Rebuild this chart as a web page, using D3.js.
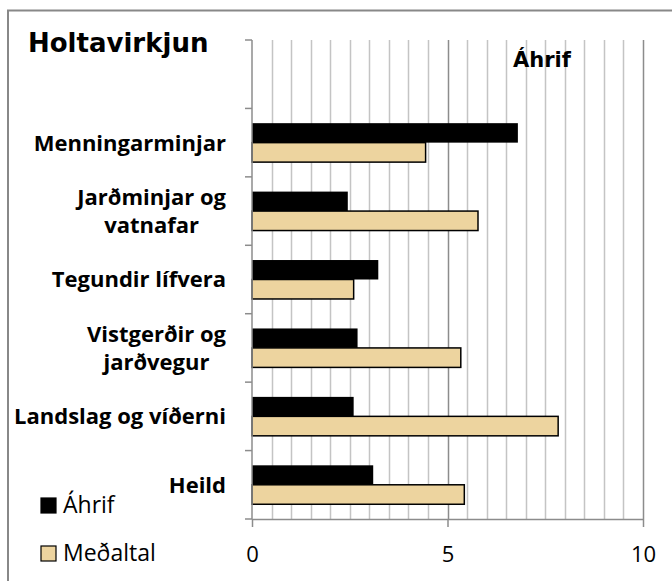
<!DOCTYPE html>
<html>
<head>
<meta charset="utf-8">
<script src="https://cdn.jsdelivr.net/npm/d3@7"></script>
<style>
  body { margin: 0; background: #fff; }
  svg { display: block; }
</style>
</head>
<body>
<div id="chart"></div>
<script>
// categories from bottom to top; the top slot is empty in the original chart
const categories = ['Heild', 'Landslag og víðerni', 'Vistgerðir og jarðvegur', 'Tegundir lífvera', 'Jarðminjar og vatnafar', 'Menningarminjar', ''];
const categoryLines = [['Heild'], ['Landslag og víðerni'], ['Vistgerðir og', 'jarðvegur'], ['Tegundir lífvera'], ['Jarðminjar og', 'vatnafar'], ['Menningarminjar'], []];
const seriesNames = ['Áhrif', 'Meðaltal'];
const ahrif = [3.10, 2.60, 2.70, 3.23, 2.45, 6.80, null];
const medaltal = [5.43, 7.83, 5.34, 2.60, 5.78, 4.44, null];
const xTicks = [0, 5, 10];

const width = 672, height = 581;
const plot = { left: 252, right: 643, top: 40, bottom: 519 };
const colors = { 'Áhrif': '#000000', 'Meðaltal': '#EDD49F' };
const calibri = "'Open Sans', sans-serif";

const svg = d3.select('#chart').append('svg')
  .attr('width', width)
  .attr('height', height);

// outer chart border (runs off the right/bottom edge)
svg.append('rect')
  .attr('x', 8).attr('y', 10.5)
  .attr('width', 700).attr('height', 600)
  .attr('fill', 'none')
  .attr('stroke', '#888').attr('stroke-width', 2);

const x = d3.scaleLinear().domain([0, 10]).range([plot.left, plot.right]);
const y0 = d3.scaleBand().domain(categories).range([plot.bottom, plot.top]);
const y1 = d3.scaleBand().domain(seriesNames).range([0, y0.bandwidth()]).paddingOuter(0.757);

// gridlines every 0.5, darker at the major ticks
const grid = d3.range(0.5, 10.01, 0.5);
svg.append('g').selectAll('line')
  .data(grid)
  .join('line')
  .attr('x1', d => Math.round(x(d)) + 0.5)
  .attr('x2', d => Math.round(x(d)) + 0.5)
  .attr('y1', plot.top)
  .attr('y2', plot.bottom)
  .attr('stroke', d => d % 5 === 0 ? '#8c8c8c' : '#c4c4c4')
  .attr('stroke-width', 1.5);

// bars
const rows = categories.map((c, i) => ({ cat: c, values: [ahrif[i], medaltal[i]] }));
const groups = svg.append('g').selectAll('g')
  .data(rows.filter(r => r.values[0] != null))
  .join('g')
  .attr('transform', d => `translate(0,${y0(d.cat)})`);

groups.selectAll('rect')
  .data(d => seriesNames.map((s, i) => ({ s, v: d.values[i] })))
  .join('rect')
  .attr('x', x(0))
  .attr('y', d => y1(d.s))
  .attr('width', d => x(d.v) - x(0))
  .attr('height', y1.bandwidth())
  .attr('fill', d => colors[d.s])
  .attr('stroke', '#000')
  .attr('stroke-width', d => d.s === 'Meðaltal' ? 1.5 : 0);

// left axis with ticks at band edges
const leftAxis = svg.append('g');
leftAxis.append('line')
  .attr('x1', plot.left).attr('x2', plot.left)
  .attr('y1', plot.top).attr('y2', plot.bottom)
  .attr('stroke', '#8c8c8c').attr('stroke-width', 1.5);
const edges = categories.map(c => y0(c)).concat([plot.bottom]);
leftAxis.selectAll('.tk')
  .data(edges)
  .join('line')
  .attr('x1', plot.left - 7).attr('x2', plot.left)
  .attr('y1', d => d).attr('y2', d => d)
  .attr('stroke', '#8c8c8c').attr('stroke-width', 1.5);

// bottom axis
const xAxis = svg.append('g')
  .attr('transform', `translate(0,${plot.bottom})`)
  .call(d3.axisBottom(x).tickValues(xTicks).tickSize(8).tickPadding(19).tickSizeOuter(0));
xAxis.select('.domain').attr('stroke', '#8c8c8c').attr('stroke-width', 1.5);
xAxis.selectAll('.tick line').attr('stroke', '#8c8c8c').attr('stroke-width', 1.5);
xAxis.selectAll('.tick text')
  .attr('font-family', calibri)
  .attr('font-size', 22)
  .attr('fill', '#000');

// category labels, lines centred on each other, block right-aligned
const labelRight = 226;
const lineH = 28;
categories.forEach((c, i) => {
  const lines = categoryLines[i];
  if (!lines.length) return;
  const cy = y0(c) + y0.bandwidth() / 2;
  const g = svg.append('g');
  const texts = lines.map((ln, j) => g.append('text')
    .attr('y', cy + (j - (lines.length - 1) / 2) * lineH)
    .attr('dy', '0.36em')
    .attr('font-family', calibri)
    .attr('font-weight', 700)
    .attr('font-size', 22)
    .attr('text-anchor', 'middle')
    .text(ln));
  const maxW = d3.max(texts, t => t.node().getComputedTextLength());
  texts.forEach(t => t.attr('x', labelRight - maxW / 2));
});

// titles
svg.append('text')
  .attr('x', 28).attr('y', 52)
  .attr('font-family', 'DejaVu Sans, sans-serif')
  .attr('font-weight', 700)
  .attr('font-size', 26)
  .text('Holtavirkjun');

svg.append('text')
  .attr('x', 513).attr('y', 67)
  .attr('font-family', 'DejaVu Sans, sans-serif')
  .attr('font-weight', 700)
  .attr('font-size', 21)
  .text('Áhrif');

// legend
const legend = svg.append('g').selectAll('g')
  .data(seriesNames)
  .join('g')
  .attr('transform', (d, i) => `translate(41,${498 + i * 48})`);
legend.append('rect')
  .attr('width', 15).attr('height', 15)
  .attr('fill', d => colors[d])
  .attr('stroke', '#000').attr('stroke-width', 1.2);
legend.append('text')
  .attr('x', 22).attr('y', 15)
  .attr('font-family', calibri)
  .attr('font-size', 23)
  .text(d => d);
</script>
</body>
</html>
